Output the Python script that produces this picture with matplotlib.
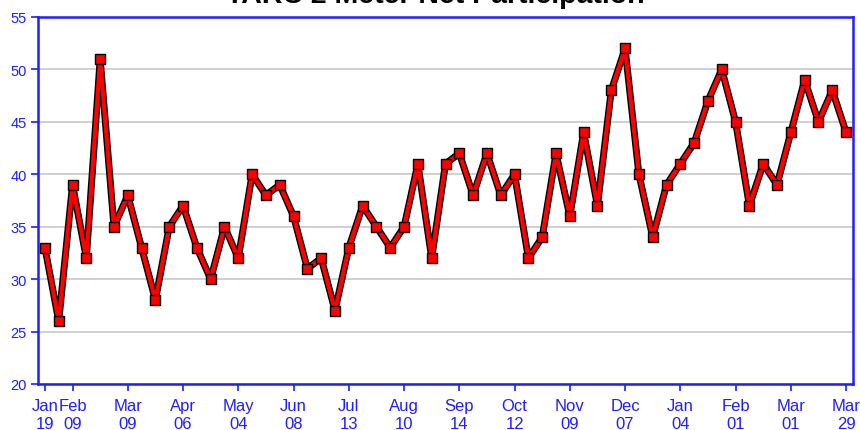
import matplotlib
matplotlib.use("Agg")
import matplotlib.pyplot as plt
import matplotlib.patheffects as pe

plt.rcParams['font.family'] = ['Liberation Sans', 'DejaVu Sans']

# weekly net check-ins (categorical x axis, one point per net)
counts = [33, 26, 39, 32, 51, 35, 38, 33, 28, 35,
          37, 33, 30, 35, 32, 40, 38, 39, 36, 31,
          32, 27, 33, 37, 35, 33, 35, 41, 32, 41,
          42, 38, 42, 38, 40, 32, 34, 42, 36, 44,
          37, 48, 52, 40, 34, 39, 41, 43, 47, 50,
          45, 37, 41, 39, 44, 49, 45, 48, 44]

tick_idx = [0, 2, 6, 10, 14, 18, 22, 26, 30, 34, 38, 42, 46, 50, 54, 58]
tick_labels = ["Jan\n19", "Feb\n09", "Mar\n09", "Apr\n06", "May\n04", "Jun\n08",
               "Jul\n13", "Aug\n10", "Sep\n14", "Oct\n12", "Nov\n09", "Dec\n07",
               "Jan\n04", "Feb\n01", "Mar\n01", "Mar\n29"]

blue = '#1f1fff'

fig = plt.figure(figsize=(8.6, 4.31), dpi=100)
ax = fig.add_axes([38 / 860, 46 / 431, 815 / 860, 367 / 431])

x = list(range(len(counts)))
# red line with a thin black outline
ax.plot(x, counts, color='red', linewidth=3, solid_joinstyle='round',
        path_effects=[pe.Stroke(linewidth=5, foreground='black', joinstyle='round'),
                      pe.Normal()],
        zorder=3)
# square markers on top
ax.plot(x, counts, linestyle='none', marker='s', markersize=7.6,
        markerfacecolor='red', markeredgecolor='black', markeredgewidth=1.0,
        zorder=4)

ax.set_xlim(-0.5, len(counts) - 0.5)
ax.set_ylim(20, 55)
ax.set_yticks(range(20, 56, 5))
ax.set_xticks(tick_idx)
ax.set_xticklabels(tick_labels, linespacing=1.25)

ax.grid(axis='y', color='#c8c8c8', linewidth=1.2)
ax.set_axisbelow(True)
for s in ax.spines.values():
    s.set_color(blue)
    s.set_linewidth(1.8)

ax.tick_params(axis='both', colors=blue, labelcolor=blue, labelsize=12,
               length=5, width=1.2, direction='out')
ax.tick_params(axis='y', pad=3, labelsize=10.5)
ax.tick_params(axis='x', pad=5)

fig.text(0.506, 0.993, "TARC 2 Meter Net Participation", ha='center', va='baseline',
         fontsize=20.5, fontweight='bold', color='black')

fig.savefig("out.png", dpi=100)
